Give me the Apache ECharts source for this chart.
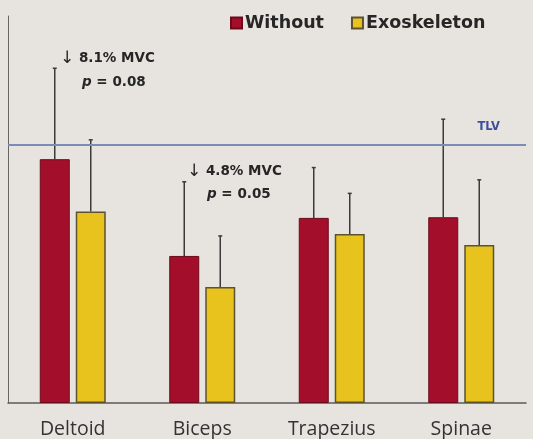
<!DOCTYPE html>
<html>
<head>
<meta charset="utf-8">
<script src="https://cdn.jsdelivr.net/npm/echarts@6/dist/echarts.min.js"></script>
<style>
  html, body { margin: 0; padding: 0; background: #e7e4e0; }
  #chart { width: 533px; height: 439px; }
</style>
</head>
<body>
<div id="chart"></div>
<script>
// muscle activity, %MVC
var muscles = ['Deltoid', 'Biceps', 'Trapezius', 'Spinae'];
var withoutMean = [37.8, 22.8, 28.7, 28.8];
var withoutSd = [14.1, 11.5, 7.8, 15.2];
var exoMean = [29.7, 18.0, 26.2, 24.5];
var exoSd = [11.1, 7.9, 6.3, 10.1];
var tlv = 40;

var barWidth = 30;
var gapPx = 6;
var half = (barWidth + gapPx) / 2;

function errorSeries(name, means, sds, offset) {
  return {
    type: 'custom',
    name: name,
    silent: true,
    z: 1,
    data: means.map(function (m, i) { return [i, m, m + sds[i]]; }),
    encode: { x: 0, y: [1, 2] },
    renderItem: function (params, api) {
      var lo = api.coord([api.value(0), api.value(1)]);
      var hi = api.coord([api.value(0), api.value(2)]);
      var x = lo[0] + offset;
      var st = { stroke: '#3a3a3a', lineWidth: 1.5 };
      return {
        type: 'group',
        children: [
          { type: 'line', shape: { x1: x, y1: lo[1], x2: x, y2: hi[1] }, style: st },
          { type: 'line', shape: { x1: x - 2, y1: hi[1], x2: x + 2, y2: hi[1] }, style: st }
        ]
      };
    }
  };
}

var chart = echarts.init(document.getElementById('chart'));
var font = '"Open Sans", "Noto Sans", sans-serif';
var boldFont = '"DejaVu Sans", sans-serif';

function note(left, top, text) {
  return {
    type: 'text', left: left, top: top,
    style: {
      text: text,
      font: 'bold 13.5px ' + boldFont,
      fill: '#262626',
      rich: {
        a: { fontSize: 17, fontWeight: 'normal', fontFamily: boldFont, fill: '#262626' },
        i: { fontStyle: 'italic', fontWeight: 'bold', fontSize: 13.5, fontFamily: boldFont, fill: '#262626' }
      }
    }
  };
}

chart.setOption({
  backgroundColor: '#e7e4e0',
  animation: false,
  legend: {
    data: ['Without', 'Exoskeleton'],
    left: 225,
    top: 9,
    icon: 'rect',
    itemWidth: 11,
    itemHeight: 11,
    itemGap: 27,
    textStyle: { fontFamily: boldFont, fontWeight: 'bold', fontSize: 17.5, color: '#262626', padding: [0, 0, 0, -2] }
  },
  grid: { left: 8, right: 7, top: 16, bottom: 36 },
  xAxis: {
    type: 'category',
    data: muscles,
    axisLine: { lineStyle: { color: '#5a5a5a', width: 1.5 } },
    axisTick: { show: false },
    axisLabel: { fontFamily: font, fontSize: 19.5, color: '#333', margin: 16 }
  },
  yAxis: {
    type: 'value',
    min: 0,
    max: 60,
    axisLine: { show: true, lineStyle: { color: '#666', width: 1 } },
    axisTick: { show: false },
    axisLabel: { show: false },
    splitLine: { show: false }
  },
  series: [
    {
      name: 'Without',
      type: 'bar',
      barWidth: barWidth,
      barGap: (gapPx / barWidth * 100) + '%',
      z: 2,
      itemStyle: { color: '#a30f2b', borderColor: '#6c0a1b', borderWidth: 1 },
      data: withoutMean,
      markLine: {
        silent: true,
        symbol: ['none', 'none'],
        lineStyle: { color: '#7d8cb6', width: 2, type: 'solid' },
        label: {
          position: 'insideEndTop',
          formatter: 'TLV',
          fontFamily: boldFont,
          fontWeight: 'bold',
          fontSize: 11.5,
          color: '#3c4f9c',
          distance: [26, 12]
        },
        data: [{ yAxis: tlv }]
      }
    },
    {
      name: 'Exoskeleton',
      type: 'bar',
      barWidth: barWidth,
      z: 2,
      itemStyle: { color: '#e8c31d', borderColor: '#5c5230', borderWidth: 1.5 },
      data: exoMean
    },
    errorSeries('Without SD', withoutMean, withoutSd, -half),
    errorSeries('Exoskeleton SD', exoMean, exoSd, half)
  ],
  graphic: [
    note(60, 50, '{a|\u2193} 8.1% MVC'),
    note(82, 75, '{i|p} = 0.08'),
    note(187, 163, '{a|\u2193} 4.8% MVC'),
    note(207, 187, '{i|p} = 0.05')
  ]
});
</script>
</body>
</html>
